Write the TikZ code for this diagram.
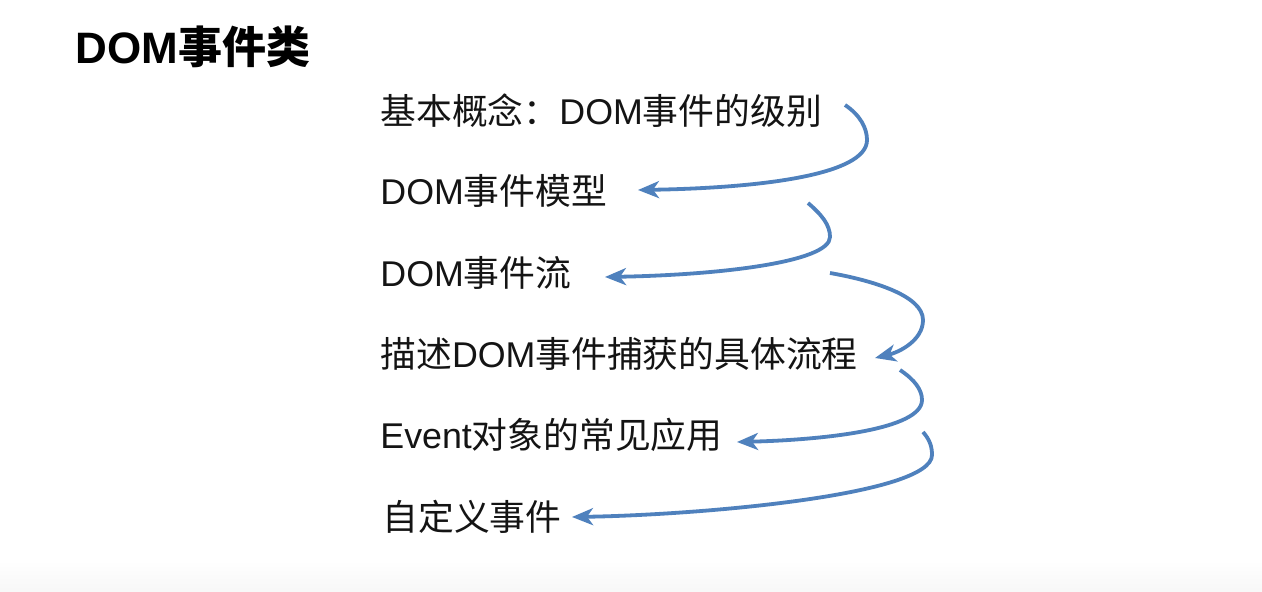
\documentclass[tikz,border=0pt]{standalone}
\usepackage{fontspec}
\setmainfont{Liberation Sans}
\newfontfamily\cjk{Noto Sans CJK SC}
\newcommand\zh[1]{{\cjk #1}}
\usetikzlibrary{arrows.meta}
\definecolor{arrblue}{RGB}{79,129,189}
\definecolor{txt}{RGB}{20,20,20}
\tikzset{
  item/.style={anchor=base west, inner sep=0pt, text=txt, font=\fontsize{17.9}{20}\selectfont},
  ttl/.style={anchor=base west, inner sep=0pt, text=black, font=\fontsize{22}{26}\selectfont\bfseries},
  arr/.style={draw=arrblue, line width=1.9pt, -{Stealth[length=10.5pt, width=8.5pt, inset=3pt]}}
}
\begin{document}
\begin{tikzpicture}[x=0.5pt, y=-0.5pt]
\useasboundingbox (0,0) rectangle (1262,592);
\fill[white] (0,0) rectangle (1262,592);
\shade[top color=white, bottom color=black!3] (0,560) rectangle (1262,592);

\node[ttl] (title) at (75,64) {DOM\zh{事件类}};
\node[item] (n1) at (380,125) {\zh{基本概念：}DOM\zh{事件的级别}};
\node[item] (n2) at (380,205) {DOM\zh{事件模型}};
\node[item] (n3) at (380,287) {DOM\zh{事件流}};
\node[item] (n4) at (380,368) {\zh{描述}DOM\zh{事件捕获的具体流程}};
\node[item] (n5) at (380,449) {Event\zh{对象的常见应用}};
\node[item] (n6) at (382,530) {\zh{自定义事件}};

\coordinate (s1) at (845,105);
\coordinate (t1) at (638,190);
\coordinate (s2) at (808,203);
\coordinate (t2) at (605,277);
\coordinate (s3) at (830,273);
\coordinate (t3) at (875,358);
\coordinate (s4) at (900,370);
\coordinate (t4) at (737,442);
\coordinate (s5) at (923,432);
\coordinate (t5) at (572,517);

\draw[arr] (s1) .. controls (860,115) and (867,128) .. (867,140)
  .. controls (867,175) and (760,188) .. (t1);
\draw[arr] (s2) .. controls (822,215) and (830,225) .. (830,237)
  .. controls (830,262) and (720,275) .. (t2);
\draw[arr] (s3) .. controls (870,280) and (923,295) .. (923,320)
  .. controls (923,340) and (900,352) .. (t3);
\draw[arr] (s4) .. controls (915,380) and (922,390) .. (922,400)
  .. controls (922,430) and (820,440) .. (t4);
\draw[arr] (s5) .. controls (930,440) and (932,447) .. (932,455)
  .. controls (932,495) and (700,515) .. (t5);
\end{tikzpicture}
\end{document}
